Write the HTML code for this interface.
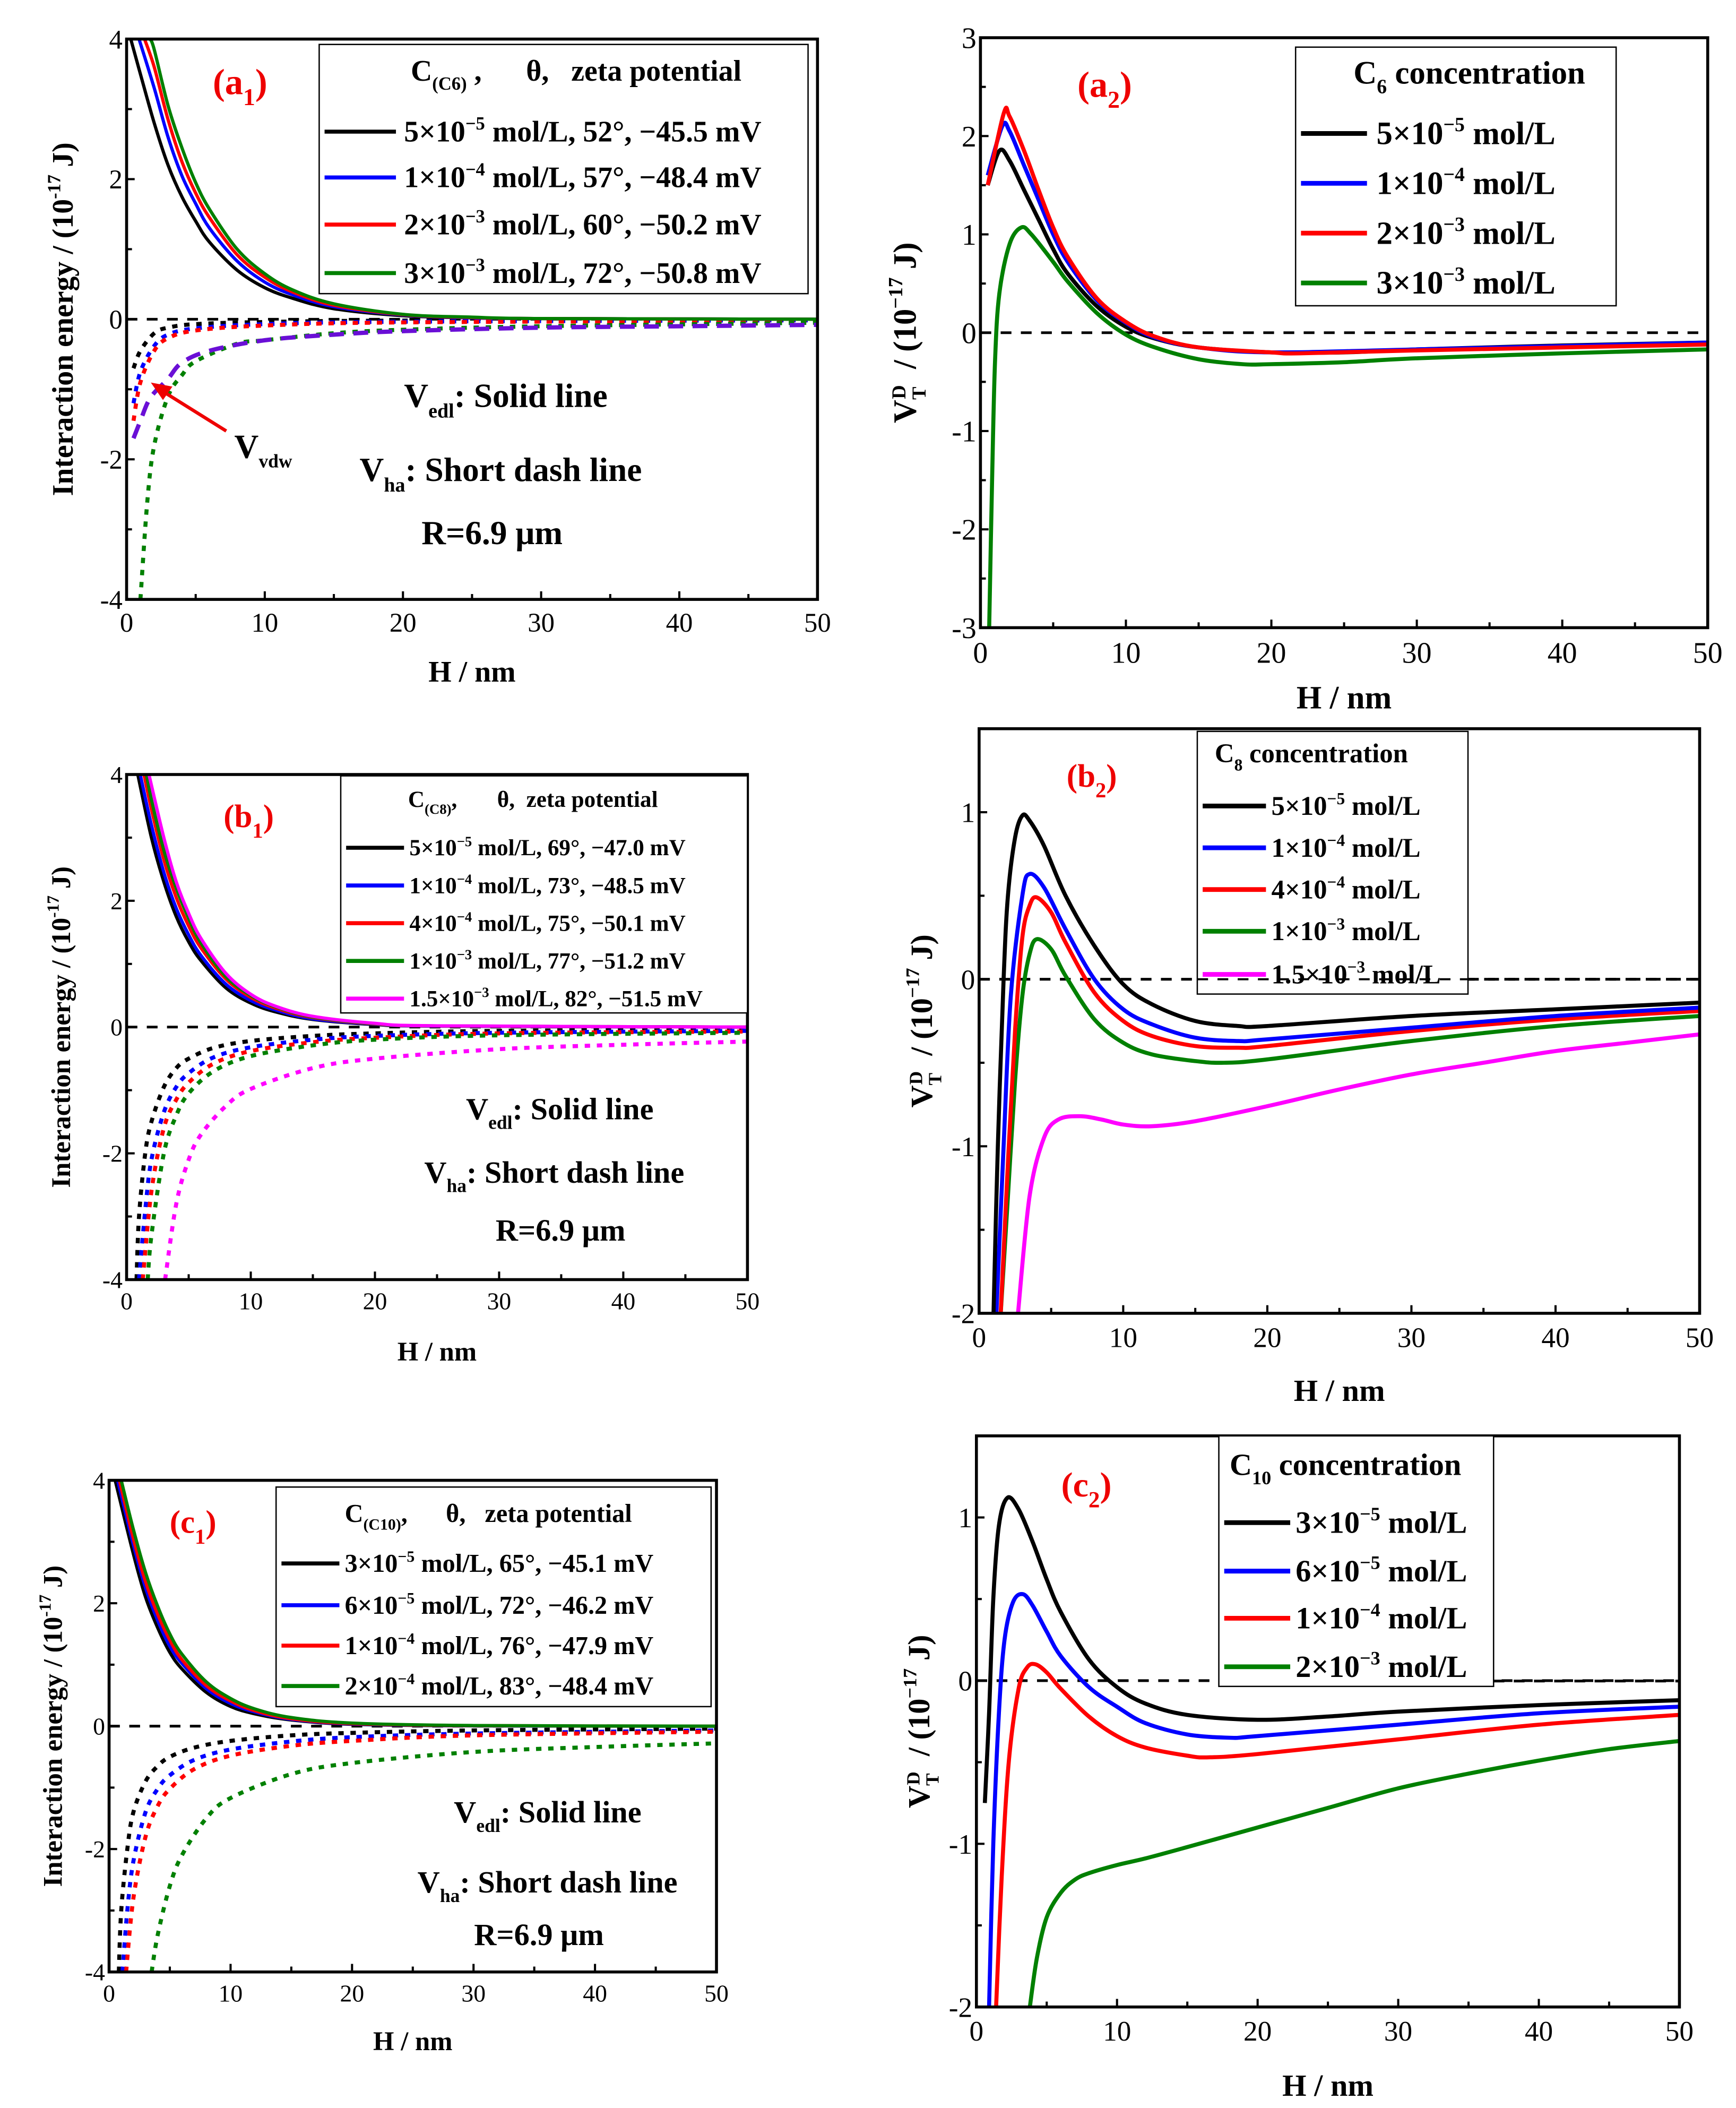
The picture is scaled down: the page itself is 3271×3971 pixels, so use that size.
<!DOCTYPE html>
<html><head><meta charset="utf-8"><style>
html,body{margin:0;padding:0;background:#fff}
svg{display:block}
text{font-family:"Liberation Serif",serif;white-space:pre}
.b{font-weight:bold}
</style></head><body>
<svg id="fig" xmlns="http://www.w3.org/2000/svg" width="3271" height="3971" viewBox="0 0 1289 1565" preserveAspectRatio="none">
<rect width="1289" height="1565" fill="#fff"/>
<g id="root"></g>
<g>
<text x="158" y="70" fill="#e00" font-size="27" class="b">(a<tspan font-size="18" dy="8">1</tspan><tspan dy="-8">)</tspan></text>
<text x="300" y="302" font-size="25" class="b">V<tspan font-size="15" dy="8">edl</tspan><tspan dy="-8">: Solid line</tspan></text>
<text x="267" y="357" font-size="25" class="b">V<tspan font-size="15" dy="8">ha</tspan><tspan dy="-8">: Short dash line</tspan></text>
<text x="313" y="404" font-size="25" class="b">R=6.9 μm</text>
<text x="174" y="340" font-size="25" class="b">V<tspan font-size="14" dy="7">vdw</tspan></text>
<line x1="168" y1="320" x2="120" y2="290" stroke="#e00" stroke-width="2.5"/>
<polygon points="112,284 128,287 121,297" fill="#e00"/>
</g>
<g>
<text x="166" y="614" fill="#e00" font-size="24" class="b">(b<tspan font-size="16" dy="8">1</tspan><tspan dy="-8">)</tspan></text>
<text x="346" y="831" font-size="23" class="b">V<tspan font-size="14" dy="7">edl</tspan><tspan dy="-7">: Solid line</tspan></text>
<text x="315" y="878" font-size="23" class="b">V<tspan font-size="14" dy="7">ha</tspan><tspan dy="-7">: Short dash line</tspan></text>
<text x="368" y="921" font-size="23" class="b">R=6.9 μm</text>
</g>
<g>
<text x="126" y="1138" fill="#e00" font-size="24" class="b">(c<tspan font-size="16" dy="8">1</tspan><tspan dy="-8">)</tspan></text>
<text x="337" y="1353" font-size="23" class="b">V<tspan font-size="14" dy="7">edl</tspan><tspan dy="-7">: Solid line</tspan></text>
<text x="310" y="1405" font-size="23" class="b">V<tspan font-size="14" dy="7">ha</tspan><tspan dy="-7">: Short dash line</tspan></text>
<text x="352" y="1444" font-size="23" class="b">R=6.9 μm</text>
</g>
<g>
<text x="800" y="72" fill="#e00" font-size="27" class="b">(a<tspan font-size="18" dy="8">2</tspan><tspan dy="-8">)</tspan></text>
<text x="792" y="584" fill="#e00" font-size="24" class="b">(b<tspan font-size="16" dy="8">2</tspan><tspan dy="-8">)</tspan></text>
<text x="788" y="1111" fill="#e00" font-size="26" class="b">(c<tspan font-size="17" dy="8">2</tspan><tspan dy="-8">)</tspan></text>
</g>
</svg>
<script>
// ---------- DATA ----------
const a1SolidBlackH=[0.3,1,2,3,4,5,6,8,10,12,15,20,25,30,50];
const a1SolidBlackV=[4,3.5,2.8,2.2,1.75,1.4,1.1,0.7,0.45,0.3,0.15,0.05,0.02,0.01,0];
const a1SolidBlueH=[0.9,2,3,4,5,6,8,10,12,15,20,25,30,50];
const a1SolidBlueV=[4,3.3,2.6,2.05,1.65,1.3,0.83,0.53,0.35,0.18,0.06,0.02,0.01,0];
const a1SolidRedH=[1.3,2,3,4,5,6,8,10,12,15,20,25,30,50];
const a1SolidRedV=[4,3.6,2.85,2.25,1.8,1.45,0.92,0.6,0.39,0.2,0.065,0.025,0.01,0];
const a1SolidGreenH=[1.7,2,3,4,5,6,8,10,12,15,20,25,30,50];
const a1SolidGreenV=[4,3.85,3.05,2.45,1.95,1.57,1.0,0.65,0.42,0.22,0.07,0.03,0.01,0];
const a1DotBlackH=[0.5,1,2,3,5,10,20,50];
const a1DotBlackV=[-0.7,-0.45,-0.2,-0.12,-0.07,-0.04,-0.02,-0.01];
const a1DotBlueH=[0.5,1,2,3,5,10,20,50];
const a1DotBlueV=[-1.2,-0.75,-0.38,-0.22,-0.13,-0.07,-0.035,-0.015];
const a1DotRedH=[0.5,1,2,3,5,10,20,50];
const a1DotRedV=[-1.45,-0.9,-0.45,-0.27,-0.16,-0.09,-0.045,-0.02];
const a1DotGreenH=[1,1.5,2,3,4,5,8,10,15,20,30,50];
const a1DotGreenV=[-4,-2.6,-1.8,-1.1,-0.8,-0.6,-0.35,-0.3,-0.2,-0.15,-0.1,-0.05];
const a1VdwH=[0.5,1,1.5,2,3,4,6,10,15,20,30,40,50];
const a1VdwV=[-1.7,-1.45,-1.2,-1.05,-0.85,-0.62,-0.45,-0.3,-0.22,-0.17,-0.12,-0.1,-0.08];
const a2BlackH=[0.5,1.3,2,3,4,5,6,8,10,12,15,20,25,30,40,50];
const a2BlackV=[1.5,1.85,1.75,1.45,1.15,0.85,0.6,0.27,0.06,-0.06,-0.15,-0.2,-0.2,-0.17,-0.13,-0.1];
const a2BlueH=[0.5,1.5,2,3,4,5,6,8,10,12,15,20,30,50];
const a2BlueV=[1.6,2.1,2.05,1.7,1.35,1.0,0.72,0.33,0.1,-0.05,-0.15,-0.2,-0.17,-0.1];
const a2RedH=[0.5,1.6,2,3,4,5,6,8,10,12,15,20,22,30,50];
const a2RedV=[1.5,2.23,2.2,1.85,1.45,1.07,0.77,0.35,0.11,-0.04,-0.15,-0.2,-0.21,-0.18,-0.12];
const a2GreenH=[0.6,0.8,1,1.3,2,2.8,3.5,5,6,8,10,12,15,18,20,25,30,40,50];
const a2GreenV=[-3,-1.5,-0.3,0.4,0.9,1.07,1.0,0.72,0.52,0.2,-0.02,-0.15,-0.27,-0.32,-0.32,-0.3,-0.26,-0.21,-0.17];
const b1SolidBlackH=[0.9,2,3,4,5,6,8,10,12,15,20,25,50];
const b1SolidBlackV=[4,3,2.3,1.75,1.35,1.05,0.62,0.38,0.24,0.12,0.04,0.015,0];
const b1SolidBlueH=[1.1,2,3,4,5,6,8,10,12,15,20,25,50];
const b1SolidBlueV=[4,3.2,2.45,1.88,1.46,1.13,0.68,0.42,0.27,0.13,0.045,0.016,0];
const b1SolidRedH=[1.4,2,3,4,5,6,8,10,12,15,20,25,50];
const b1SolidRedV=[4,3.45,2.65,2.05,1.6,1.25,0.76,0.47,0.3,0.15,0.05,0.018,0];
const b1SolidGreenH=[1.6,2,3,4,5,6,8,10,12,15,20,25,50];
const b1SolidGreenV=[4,3.6,2.8,2.2,1.72,1.33,0.8,0.5,0.32,0.16,0.055,0.019,0];
const b1SolidMagentaH=[1.8,3,4,5,6,8,10,12,15,20,25,50];
const b1SolidMagentaV=[4,3.0,2.3,1.8,1.4,0.85,0.52,0.33,0.17,0.06,0.02,0];
const b1DotBlackH=[0.8,1,1.5,2,3,4,5,7,10,15,20,30,50];
const b1DotBlackV=[-4,-3,-2,-1.5,-0.95,-0.65,-0.5,-0.33,-0.22,-0.14,-0.1,-0.06,-0.04];
const b1DotBlueH=[1,1.5,2,3,4,5,7,10,15,20,30,50];
const b1DotBlueV=[-4,-2.9,-2.1,-1.35,-0.95,-0.73,-0.48,-0.32,-0.2,-0.14,-0.09,-0.06];
const b1DotRedH=[1.3,2,3,4,5,7,10,15,20,30,50];
const b1DotRedV=[-4,-2.6,-1.6,-1.15,-0.88,-0.58,-0.38,-0.24,-0.17,-0.1,-0.07];
const b1DotGreenH=[1.7,2,3,4,5,7,10,15,20,30,50];
const b1DotGreenV=[-4,-3.3,-2.0,-1.4,-1.05,-0.7,-0.46,-0.29,-0.2,-0.13,-0.09];
const b1DotMagentaH=[3.1,4,5,6,8,10,15,20,30,40,50];
const b1DotMagentaV=[-4,-2.8,-2.1,-1.7,-1.25,-0.98,-0.65,-0.5,-0.35,-0.28,-0.23];
const b2BlackH=[1,1.3,1.7,2,2.5,3,3.5,4.5,6,8,10,12,15,18,20,30,40,50];
const b2BlackV=[-2,-1,0,0.5,0.85,0.98,0.95,0.8,0.5,0.2,-0.03,-0.15,-0.25,-0.28,-0.28,-0.22,-0.18,-0.14];
const b2BlueH=[1.2,1.7,2.2,3,3.5,4.5,6,8,10,12,15,18,20,30,40,50];
const b2BlueV=[-2,-1,-0.1,0.5,0.63,0.55,0.3,0.0,-0.18,-0.27,-0.35,-0.37,-0.36,-0.29,-0.22,-0.17];
const b2RedH=[1.5,2,2.5,3,3.5,4,5,6,8,10,12,15,18,20,30,40,50];
const b2RedV=[-2,-1.1,-0.3,0.25,0.44,0.49,0.4,0.22,-0.08,-0.25,-0.34,-0.4,-0.41,-0.4,-0.31,-0.24,-0.19];
const b2GreenH=[1.5,2,2.5,3,3.5,4,5,6,8,10,12,15,17,20,30,40,50];
const b2GreenV=[-2,-1.3,-0.6,-0.1,0.15,0.24,0.18,0.02,-0.24,-0.38,-0.45,-0.49,-0.5,-0.48,-0.37,-0.28,-0.22];
const b2MagentaH=[2.7,3.5,4.5,5.5,7,8.5,10,12,15,20,25,30,35,40,45,50];
const b2MagentaV=[-2,-1.3,-0.95,-0.84,-0.82,-0.84,-0.87,-0.88,-0.85,-0.76,-0.66,-0.57,-0.5,-0.43,-0.38,-0.33];
const c1SolidBlackH=[0.5,2,3,4,5,6,8,10,12,15,20,30,50];
const c1SolidBlackV=[4,2.8,2.1,1.6,1.2,0.93,0.55,0.32,0.2,0.1,0.03,0.005,0];
const c1SolidBlueH=[0.7,2,3,4,5,6,8,10,12,15,20,30,50];
const c1SolidBlueV=[4,2.95,2.25,1.72,1.3,1.02,0.61,0.37,0.23,0.11,0.035,0.006,0];
const c1SolidRedH=[0.85,2,3,4,5,6,8,10,12,15,20,30,50];
const c1SolidRedV=[4,3.05,2.35,1.82,1.4,1.08,0.66,0.41,0.25,0.12,0.04,0.008,0];
const c1SolidGreenH=[1,2,3,4,5,6,8,10,12,15,20,30,50];
const c1SolidGreenV=[4,3.2,2.5,1.95,1.5,1.17,0.72,0.45,0.28,0.14,0.05,0.01,0];
const c1DotBlackH=[0.8,1,1.5,2,3,4,5,7,10,15,20,30,50];
const c1DotBlackV=[-4,-3,-2,-1.4,-0.9,-0.65,-0.5,-0.35,-0.24,-0.15,-0.11,-0.07,-0.04];
const c1DotBlueH=[1.1,1.5,2,3,4,5,7,10,15,20,30,50];
const c1DotBlueV=[-4,-3,-2.2,-1.4,-1.02,-0.8,-0.55,-0.38,-0.25,-0.18,-0.12,-0.07];
const c1DotRedH=[1.4,2,3,4,5,7,10,15,20,30,50];
const c1DotRedV=[-4,-2.8,-1.8,-1.3,-1.02,-0.7,-0.48,-0.32,-0.24,-0.15,-0.09];
const c1DotGreenH=[3.5,4,5,6,8,10,15,20,30,40,50];
const c1DotGreenV=[-4,-3.4,-2.6,-2.1,-1.5,-1.17,-0.78,-0.6,-0.42,-0.34,-0.28];
const c2BlackH=[0.6,0.9,1.2,1.6,2.2,3,4,5,6,8,10,12,15,20,25,30,40,50];
const c2BlackV=[-0.75,-0.2,0.5,0.95,1.12,1.05,0.85,0.62,0.42,0.13,-0.04,-0.14,-0.21,-0.24,-0.22,-0.19,-0.15,-0.12];
const c2BlueH=[0.9,1.2,1.6,2,2.6,3.3,4,5,6,8,10,12,15,18,20,30,40,50];
const c2BlueV=[-2,-1,-0.2,0.25,0.48,0.53,0.46,0.3,0.15,-0.04,-0.16,-0.26,-0.33,-0.35,-0.34,-0.27,-0.2,-0.16];
const c2RedH=[1.4,1.8,2.3,3,3.6,4.2,5,6,8,10,12,15,16.5,20,30,40,50];
const c2RedV=[-2,-1.2,-0.5,-0.05,0.08,0.1,0.05,-0.05,-0.22,-0.34,-0.41,-0.46,-0.47,-0.45,-0.36,-0.27,-0.21];
const c2GreenH=[3.8,4.3,5,6,7,8,10,12,15,20,25,30,35,40,45,50];
const c2GreenV=[-2,-1.7,-1.45,-1.3,-1.22,-1.18,-1.13,-1.09,-1.02,-0.9,-0.78,-0.66,-0.57,-0.49,-0.42,-0.37];
const xTickLabels=["0","10","20","30","40","50"];
const yTicksA1=["-4","-2","0","2","4"];
const yTicksA2=["-3","-2","-1","0","1","2","3"];
const yTicksB2=["-2","-1","0","1"];

// ---------- DRAWING ----------
const NS="http://www.w3.org/2000/svg";
const root=document.getElementById('root');
function mk(tag,attrs,parent){const e=document.createElementNS(NS,tag);for(const k in attrs)e.setAttribute(k,attrs[k]);(parent||root).appendChild(e);return e;}
const COL={k:"#000",b:"#0000ff",r:"#ff0000",g:"#008000",m:"#ff00ff",p:"#6a0fd6"};
const f=n=>n.toFixed(2);
const sup=(b,e,fs)=>b+'×10<tspan font-size="'+f(fs*0.62)+'" dy="'+f(-fs*0.4)+'">'+e+'</tspan><tspan dy="'+f(fs*0.4)+'"> </tspan>';
const sub=(b,s,rest,fs)=>b+'<tspan font-size="'+f(fs*0.62)+'" dy="'+f(fs*0.3)+'">'+s+'</tspan><tspan dy="'+f(-fs*0.3)+'">'+rest+'</tspan>';
const Y1=fs=>'Interaction energy / (10<tspan font-size="'+f(fs*0.62)+'" dy="'+f(-fs*0.42)+'">-17</tspan><tspan dy="'+f(fs*0.42)+'"> J)</tspan>';
const Y2=fs=>'V<tspan font-size="'+f(fs*0.6)+'" dy="'+f(fs*0.3)+'">T</tspan><tspan font-size="'+f(fs*0.6)+'" dx="'+f(-fs*0.38)+'" dy="'+f(-fs*0.62)+'">D</tspan><tspan dy="'+f(fs*0.32)+'">  / (10</tspan><tspan font-size="'+f(fs*0.62)+'" dy="'+f(-fs*0.42)+'">−17</tspan><tspan dy="'+f(fs*0.42)+'"> J)</tspan>';

function panel(id,box,ymin,ymax,yStep,ticks,xtitle,ytitle){
  const g=mk('g',{});
  
  
  const sx=v=>box.x0+(v/50)*(box.x1-box.x0);
  const sy=v=>box.y1-(v-ymin)/(ymax-ymin)*(box.y1-box.y0);
  const cp=mk('clipPath',{id:'clip-'+id},g);
  mk('rect',{x:box.x0,y:box.y0,width:box.x1-box.x0,height:box.y1-box.y0},cp);
  const plot=mk('g',{'clip-path':'url(#clip-'+id+')'},g);
  const z=mk('line',{x1:sx(0),x2:sx(50),y1:sy(0),y2:sy(0),stroke:'#000','stroke-width':2,'stroke-dasharray':'8 7'},plot);
  
  
  const fr=mk('rect',{x:box.x0,y:box.y0,width:box.x1-box.x0,height:box.y1-box.y0,fill:'none',stroke:'#000','stroke-width':2.2},g);
  
  
  for(let i=0;i<=10;i++){const v=i*5;const major=i%2===0;
    mk('line',{x1:sx(v),x2:sx(v),y1:box.y1,y2:box.y1-(major?6:4),stroke:'#000','stroke-width':1.6},g);
    if(major){const t=mk('text',{x:sx(v),y:box.y1+(box.fs+4),'text-anchor':'middle','font-size':box.fs},g);t.textContent=xTickLabels[i/2];
      
      }
  }
  let li=0;
  for(let v=ymin;v<=ymax+1e-9;v+=yStep/2){
    const major=Math.abs(Math.round(v/yStep)*yStep-v)<1e-6;
    mk('line',{x1:box.x0,x2:box.x0+(major?6:4),y1:sy(v),y2:sy(v),stroke:'#000','stroke-width':1.6},g);
    if(major&&li<ticks.length){const t=mk('text',{x:box.x0-3,y:sy(v)+box.fs*0.35,'text-anchor':'end','font-size':box.fs},g);t.textContent=ticks[li++];
      
      }
  }
  const xt=mk('text',{x:(box.x0+box.x1)/2,y:box.xty,'text-anchor':'middle','font-size':box.tfs,'font-weight':'bold'},g);
  xt.textContent=xtitle;
  
  
  const yt=mk('text',{x:0,y:0,'text-anchor':'middle','font-size':box.tfs,'font-weight':'bold',transform:'translate('+box.ytx+','+((box.y0+box.y1)/2)+') rotate(-90)'},g);
  yt.innerHTML=ytitle(box.tfs);
  
  
  return {sx,sy,plot,g};
}
function path(P,H,V){
  const pts=H.map((h,i)=>[P.sx(h),P.sy(V[i])]);
  let d='M'+f(pts[0][0])+','+f(pts[0][1]);
  for(let i=0;i<pts.length-1;i++){
    const p0=pts[Math.max(0,i-1)],p1=pts[i],p2=pts[i+1],p3=pts[Math.min(pts.length-1,i+2)];
    const c1=[p1[0]+(p2[0]-p0[0])/6,p1[1]+(p2[1]-p0[1])/6],c2=[p2[0]-(p3[0]-p1[0])/6,p2[1]-(p3[1]-p1[1])/6];
    d+=' C'+c1.map(f)+' '+c2.map(f)+' '+p2.map(f);
  }return d;}
function curve(P,H,V,col,w,dash,name){
  const e=mk('path',{d:path(P,H,V),fill:'none',stroke:col,'stroke-width':w,'stroke-linejoin':'round'},P.plot);
  if(dash)e.setAttribute('stroke-dasharray',dash);
  
  
}
function legend(box,header,entries,x0,x1,tx,ys,hy,fs,hfs,wl){
  const g=mk('g',{});
  
  
  mk('rect',{x:box[0],y:box[1],width:box[2]-box[0],height:box[3]-box[1],fill:'#fff',stroke:'#000','stroke-width':1},g);
  const h=mk('text',{x:header[0],y:hy,'font-size':hfs,'font-weight':'bold'},g);
  h.innerHTML=header[1];
  
  
  entries.forEach((en,i)=>{
    const l=mk('line',{x1:x0,x2:x1,y1:ys[i]-fs*0.33,y2:ys[i]-fs*0.33,stroke:en[0],'stroke-width':wl},g);
    
    
    const t=mk('text',{x:tx,y:ys[i],'font-size':fs,'font-weight':'bold'},g);
    t.innerHTML=en[1];
    
    
  });
}

// a1
let P=panel('a1',{x0:94,x1:607,y0:29,y1:445,fs:20,tfs:22,xty:506,ytx:54},-4,4,2,yTicksA1,'H / nm',Y1);
curve(P,a1DotBlackH,a1DotBlackV,COL.k,3,'4 5','a1-vha-black');
curve(P,a1DotBlueH,a1DotBlueV,COL.b,3,'4 5','a1-vha-blue');
curve(P,a1DotRedH,a1DotRedV,COL.r,3,'4 5','a1-vha-red');
curve(P,a1DotGreenH,a1DotGreenV,COL.g,3,'4 5','a1-vha-green');
curve(P,a1VdwH,a1VdwV,COL.p,3.2,'11 7','a1-vvdw');
curve(P,a1SolidBlackH,a1SolidBlackV,COL.k,2.4,null,'a1-vedl-black');
curve(P,a1SolidBlueH,a1SolidBlueV,COL.b,2.4,null,'a1-vedl-blue');
curve(P,a1SolidRedH,a1SolidRedV,COL.r,2.4,null,'a1-vedl-red');
curve(P,a1SolidGreenH,a1SolidGreenV,COL.g,2.4,null,'a1-vedl-green');
legend([237,33,600,218],[305,sub('C','(C6)',' ,      θ,   zeta potential',22)],
 [[COL.k,sup('5','−5',22)+'mol/L, 52°, −45.5 mV'],[COL.b,sup('1','−4',22)+'mol/L, 57°, −48.4 mV'],[COL.r,sup('2','−3',22)+'mol/L, 60°, −50.2 mV'],[COL.g,sup('3','−3',22)+'mol/L, 72°, −50.8 mV']],
 241,294,300,[105,139,174,210],60,22,22,3);

// a2
P=panel('a2',{x0:728,x1:1268,y0:28,y1:466,fs:22,tfs:24,xty:526,ytx:680},-3,3,1,yTicksA2,'H / nm',Y2);
curve(P,a2GreenH,a2GreenV,COL.g,3,null,'a2-green');
curve(P,a2BlackH,a2BlackV,COL.k,3,null,'a2-black');
curve(P,a2BlueH,a2BlueV,COL.b,3,null,'a2-blue');
curve(P,a2RedH,a2RedV,COL.r,3,null,'a2-red');
legend([962,35,1200,227],[1005,sub('C','6',' concentration',24)],
 [[COL.k,sup('5','−5',24)+'mol/L'],[COL.b,sup('1','−4',24)+'mol/L'],[COL.r,sup('2','−3',24)+'mol/L'],[COL.g,sup('3','−3',24)+'mol/L']],
 966,1015,1022,[107,144,181,218],62,24,24,3.5);

// b1
P=panel('b1',{x0:94,x1:555,y0:575,y1:950,fs:18,tfs:20,xty:1010,ytx:52},-4,4,2,yTicksA1,'H / nm',Y1);
curve(P,b1DotBlackH,b1DotBlackV,COL.k,3,'4 5','b1-vha-black');
curve(P,b1DotBlueH,b1DotBlueV,COL.b,3,'4 5','b1-vha-blue');
curve(P,b1DotRedH,b1DotRedV,COL.r,3,'4 5','b1-vha-red');
curve(P,b1DotGreenH,b1DotGreenV,COL.g,3,'4 5','b1-vha-green');
curve(P,b1DotMagentaH,b1DotMagentaV,COL.m,3,'4 5','b1-vha-magenta');
curve(P,b1SolidBlackH,b1SolidBlackV,COL.k,2.4,null,'b1-vedl-black');
curve(P,b1SolidBlueH,b1SolidBlueV,COL.b,2.4,null,'b1-vedl-blue');
curve(P,b1SolidRedH,b1SolidRedV,COL.r,2.4,null,'b1-vedl-red');
curve(P,b1SolidGreenH,b1SolidGreenV,COL.g,2.4,null,'b1-vedl-green');
curve(P,b1SolidMagentaH,b1SolidMagentaV,COL.m,2.4,null,'b1-vedl-magenta');
legend([253,576,555,752],[303,sub('C','(C8)',',       θ,  zeta potential',17)],
 [[COL.k,sup('5','−5',17)+'mol/L, 69°, −47.0 mV'],[COL.b,sup('1','−4',17)+'mol/L, 73°, −48.5 mV'],[COL.r,sup('4','−4',17)+'mol/L, 75°, −50.1 mV'],[COL.g,sup('1','−3',17)+'mol/L, 77°, −51.2 mV'],[COL.m,sup('1.5','−3',17)+'mol/L, 82°, −51.5 mV']],
 257,300,304,[635,663,691,719,747],599,17,17,3);

// b2
P=panel('b2',{x0:727,x1:1262,y0:541,y1:975,fs:21,tfs:23,xty:1040,ytx:692},-2,1.5,1,yTicksB2,'H / nm',Y2);
curve(P,b2MagentaH,b2MagentaV,COL.m,3,null,'b2-magenta');
curve(P,b2GreenH,b2GreenV,COL.g,3,null,'b2-green');
curve(P,b2RedH,b2RedV,COL.r,3,null,'b2-red');
curve(P,b2BlueH,b2BlueV,COL.b,3,null,'b2-blue');
curve(P,b2BlackH,b2BlackV,COL.k,3,null,'b2-black');
legend([889,543,1090,738],[902,sub('C','8',' concentration',20)],
 [[COL.k,sup('5','−5',20)+'mol/L'],[COL.b,sup('1','−4',20)+'mol/L'],[COL.r,sup('4','−4',20)+'mol/L'],[COL.g,sup('1','−3',20)+'mol/L'],[COL.m,sup('1.5','−3',20)+'mol/L']],
 893,940,944,[605,636,667,698,730],566,20,20,3.5);
mk('line',{x1:1090,x2:1262,y1:727,y2:727,stroke:'#000','stroke-width':2,'stroke-dasharray':'8 7'});
mk('line',{x1:889,x2:1090,y1:727,y2:727,stroke:'#000','stroke-width':1.5,'stroke-dasharray':'8 7'});

// c1
P=panel('c1',{x0:81,x1:532,y0:1099,y1:1464,fs:18,tfs:20,xty:1522,ytx:46},-4,4,2,yTicksA1,'H / nm',Y1);
curve(P,c1DotBlackH,c1DotBlackV,COL.k,3,'4 5','c1-vha-black');
curve(P,c1DotBlueH,c1DotBlueV,COL.b,3,'4 5','c1-vha-blue');
curve(P,c1DotRedH,c1DotRedV,COL.r,3,'4 5','c1-vha-red');
curve(P,c1DotGreenH,c1DotGreenV,COL.g,3,'4 5','c1-vha-green');
curve(P,c1SolidBlackH,c1SolidBlackV,COL.k,2.4,null,'c1-vedl-black');
curve(P,c1SolidBlueH,c1SolidBlueV,COL.b,2.4,null,'c1-vedl-blue');
curve(P,c1SolidRedH,c1SolidRedV,COL.r,2.4,null,'c1-vedl-red');
curve(P,c1SolidGreenH,c1SolidGreenV,COL.g,2.4,null,'c1-vedl-green');
legend([205,1104,528,1267],[256,sub('C','(C10)',',      θ,   zeta potential',19)],
 [[COL.k,sup('3','−5',19)+'mol/L, 65°, −45.1 mV'],[COL.b,sup('6','−5',19)+'mol/L, 72°, −46.2 mV'],[COL.r,sup('1','−4',19)+'mol/L, 76°, −47.9 mV'],[COL.g,sup('2','−4',19)+'mol/L, 83°, −48.4 mV']],
 209,252,256,[1167,1198,1228,1258],1130,19,19,3);

// c2
P=panel('c2',{x0:725,x1:1247,y0:1066,y1:1490,fs:21,tfs:23,xty:1556,ytx:690},-2,1.5,1,yTicksB2,'H / nm',Y2);
curve(P,c2GreenH,c2GreenV,COL.g,3,null,'c2-green');
curve(P,c2RedH,c2RedV,COL.r,3,null,'c2-red');
curve(P,c2BlueH,c2BlueV,COL.b,3,null,'c2-blue');
curve(P,c2BlackH,c2BlackV,COL.k,3,null,'c2-black');
legend([905,1066,1109,1252],[913,sub('C','10',' concentration',23)],
 [[COL.k,sup('3','−5',23)+'mol/L'],[COL.b,sup('6','−5',23)+'mol/L'],[COL.r,sup('1','−4',23)+'mol/L'],[COL.g,sup('2','−3',23)+'mol/L']],
 909,958,962,[1138,1174,1209,1245],1095,23,23,3.5);
mk('line',{x1:1109,x2:1247,y1:1248,y2:1248,stroke:'#000','stroke-width':2,'stroke-dasharray':'8 7'});
</script>
</body></html>
